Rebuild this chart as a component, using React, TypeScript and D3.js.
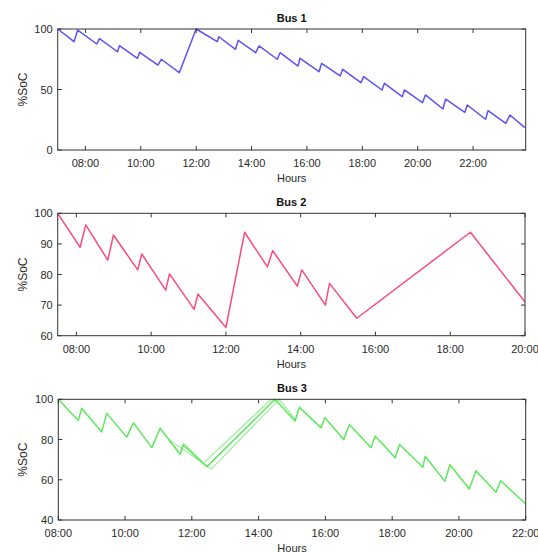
import React from 'react';
import * as d3 from 'd3';

// ---- Data ----
const bus1Hours = [7, 7.59, 7.72, 8.41, 8.51, 9.16, 9.23, 9.88, 9.96, 10.62, 10.74, 11.39, 12.0, 12.76, 12.82, 13.42, 13.52, 14.15, 14.27, 14.93, 15.03, 15.68, 15.75, 16.44, 16.53, 17.2, 17.29, 17.95, 18.05, 18.71, 18.8, 19.44, 19.52, 20.17, 20.28, 20.91, 21.01, 21.7, 21.79, 22.45, 22.54, 23.18, 23.33, 23.87];
const bus1Soc = [100, 89.5, 99, 87.6, 92, 81.2, 86.2, 75.8, 80.7, 70.2, 75, 63.9, 100, 89.5, 93.6, 83.2, 90.6, 80.4, 86, 75, 80.4, 69.4, 75.8, 64.7, 71.6, 61.2, 66.7, 55.6, 60.6, 49.6, 55.1, 44.1, 49.6, 39.1, 45.5, 33.9, 42.1, 31.1, 37.2, 25.4, 32.5, 22, 28.9, 18.5];

const bus2Hours = [7.5, 8.1, 8.25, 8.84, 8.99, 9.64, 9.75, 10.39, 10.49, 11.15, 11.25, 12.0, 12.5, 13.11, 13.25, 13.91, 14.03, 14.66, 14.77, 15.5, 18.54, 20];
const bus2Soc = [100, 88.9, 96.2, 84.7, 92.9, 81.5, 86.7, 74.9, 80.2, 68.6, 73.6, 62.7, 93.8, 82.5, 87.8, 76.2, 81.5, 70, 77.1, 65.7, 93.8, 71];

const bus3Hours = [8, 8.6, 8.7, 9.3, 9.45, 10.05, 10.25, 10.8, 11.05, 11.65, 11.74, 12.45, 14.49, 15.09, 15.22, 15.87, 15.98, 16.55, 16.72, 17.37, 17.49, 18.09, 18.22, 18.92, 18.99, 19.58, 19.73, 20.31, 20.51, 21.11, 21.25, 22];
const bus3Soc = [100, 89.5, 95.5, 83.8, 93, 81.2, 88.3, 76, 85.6, 72.7, 77.3, 66.5, 100, 89.2, 96, 85.9, 91, 80, 87.5, 75.9, 81.7, 70.9, 77.5, 66.2, 71.7, 59.2, 67.5, 55.4, 64.5, 53.8, 59.5, 48];
const bus3AltAHours = [11.3, 12.58, 14.62, 15.12];
const bus3AltASoc = [80.2, 65.3, 100, 89.5];
const bus3AltBHours = [11.74, 12.35, 14.38];
const bus3AltBSoc = [78.3, 68.3, 100];

const bus1XTicks = [8, 10, 12, 14, 16, 18, 20, 22];
const bus1YTicks = [0, 50, 100];
const bus2XTicks = [8, 10, 12, 14, 16, 18, 20];
const bus2YTicks = [60, 70, 80, 90, 100];
const bus3XTicks = [8, 10, 12, 14, 16, 18, 20, 22];
const bus3YTicks = [40, 60, 80, 100];

const fmtHour = (h: number) => `${String(Math.floor(h)).padStart(2, '0')}:00`;
const FONT = '"Liberation Sans", Arial, sans-serif';

type Series = { hours: number[]; soc: number[]; color: string; width: number };

function Panel(props: {
  id: string;
  title: string;
  top: number;
  bottom: number;
  left: number;
  right: number;
  xDomain: [number, number];
  yDomain: [number, number];
  xTicks: number[];
  yTicks: number[];
  series: Series[];
}) {
  const { id, title, top, bottom, left, right, xDomain, yDomain, xTicks, yTicks, series } = props;
  const x = d3.scaleLinear().domain(xDomain).range([left, right]);
  const y = d3.scaleLinear().domain(yDomain).range([bottom, top]);
  const cx = (left + right) / 2;
  const cy = (top + bottom) / 2;
  const tl = 4;
  return (
    <g>
      <defs>
        <clipPath id={`clip-${id}`}>
          <rect x={left} y={top - 1} width={right - left} height={bottom - top + 1} />
        </clipPath>
      </defs>
      <rect x={left} y={top} width={right - left} height={bottom - top} fill="#fff" />
      <g clipPath={`url(#clip-${id})`}>
        {series.map((s, i) => {
          const line = d3
            .line<number>()
            .x((_, j) => x(s.hours[j]))
            .y((v) => y(v));
          return (
            <path key={i} d={line(s.soc) || ''} fill="none" stroke={s.color} strokeWidth={s.width} strokeLinejoin="round" />
          );
        })}
      </g>
      {xTicks.map((t) => (
        <g key={`xt${t}`}>
          <line x1={x(t)} x2={x(t)} y1={bottom} y2={bottom - tl} stroke="#333" strokeWidth={1} />
          <line x1={x(t)} x2={x(t)} y1={top} y2={top + tl} stroke="#333" strokeWidth={1} />
          <text x={x(t)} y={bottom + 17} textAnchor="middle" fontSize={11} fontFamily={FONT} fill="#2a2a2a">
            {fmtHour(t)}
          </text>
        </g>
      ))}
      {yTicks.map((t) => (
        <g key={`yt${t}`}>
          <line x1={left} x2={left + tl} y1={y(t)} y2={y(t)} stroke="#333" strokeWidth={1} />
          <line x1={right} x2={right - tl} y1={y(t)} y2={y(t)} stroke="#333" strokeWidth={1} />
          <text x={left - 5} y={y(t) + 4} textAnchor="end" fontSize={11} fontFamily={FONT} fill="#2a2a2a">
            {t}
          </text>
        </g>
      ))}
      <rect x={left} y={top} width={right - left} height={bottom - top} fill="none" stroke="#333" strokeWidth={1} />
      <text x={cx} y={top - 7} textAnchor="middle" fontSize={11} fontWeight="bold" fontFamily={FONT} fill="#111">
        {title}
      </text>
      <text x={cx} y={bottom + 32} textAnchor="middle" fontSize={11} fontFamily={FONT} fill="#2a2a2a">
        Hours
      </text>
      <text
        transform={`translate(${27},${cy}) rotate(-90)`}
        textAnchor="middle"
        fontSize={12}
        fontFamily={FONT}
        fill="#2a2a2a"
      >
        %SoC
      </text>
    </g>
  );
}

export default function App() {
  return (
    <svg
      width={538}
      height={553}
      style={{ position: 'absolute', left: 0, top: 0, background: '#fff' }}
    >
      <rect x={0} y={0} width={538} height={553} fill="#fff" />
      <Panel
        id="b1"
        title="Bus 1"
        top={29}
        bottom={150}
        left={57.7}
        right={525.7}
        xDomain={[7, 23.9]}
        yDomain={[0, 100]}
        xTicks={bus1XTicks}
        yTicks={bus1YTicks}
        series={[{ hours: bus1Hours, soc: bus1Soc, color: '#5a52f2', width: 1.5 }]}
      />
      <Panel
        id="b2"
        title="Bus 2"
        top={213.3}
        bottom={335.7}
        left={57.7}
        right={525}
        xDomain={[7.5, 20]}
        yDomain={[60, 100]}
        xTicks={bus2XTicks}
        yTicks={bus2YTicks}
        series={[{ hours: bus2Hours, soc: bus2Soc, color: '#fb4a7b', width: 1.5 }]}
      />
      <Panel
        id="b3"
        title="Bus 3"
        top={399.3}
        bottom={520}
        left={58.3}
        right={525.7}
        xDomain={[8, 22]}
        yDomain={[40, 100]}
        xTicks={bus3XTicks}
        yTicks={bus3YTicks}
        series={[
          { hours: bus3AltAHours, soc: bus3AltASoc, color: '#98ee98', width: 1.2 },
          { hours: bus3AltBHours, soc: bus3AltBSoc, color: '#98ee98', width: 1.2 },
          { hours: bus3Hours, soc: bus3Soc, color: '#5ce85c', width: 1.5 },
        ]}
      />
    </svg>
  );
}
